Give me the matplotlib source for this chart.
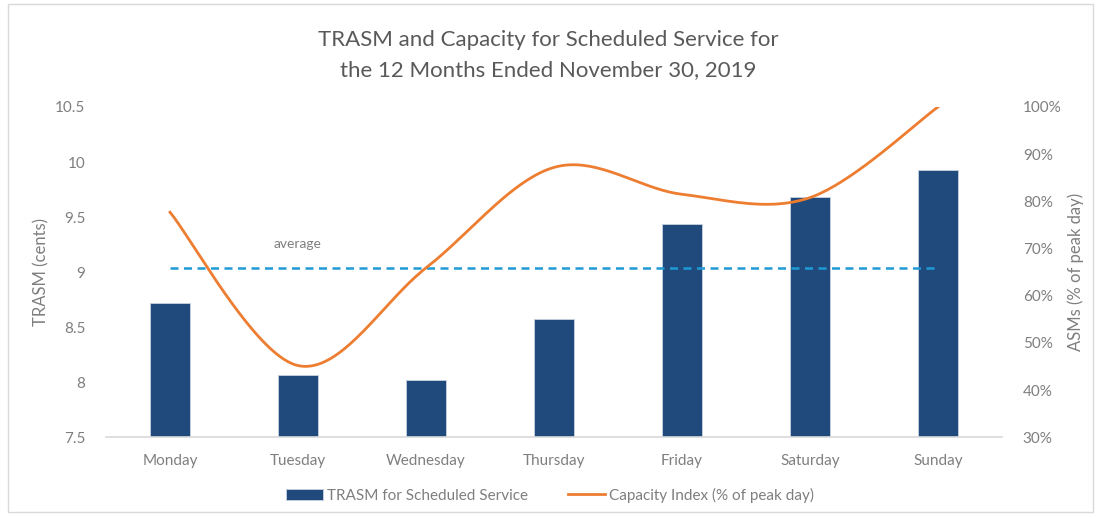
import numpy as np
import matplotlib
matplotlib.use("Agg")
import matplotlib.pyplot as plt
from matplotlib.patches import Rectangle
from matplotlib.ticker import FuncFormatter

plt.rcParams['font.family'] = ['Lato', 'DejaVu Sans']

days = ["Monday", "Tuesday", "Wednesday", "Thursday", "Friday", "Saturday", "Sunday"]
trasm = [8.72, 8.07, 8.02, 8.57, 9.44, 9.68, 9.93]
capacity = [77.7, 45.2, 65.9, 87.2, 81.5, 80.8, 100.0]
average = [9.04] * 7

title = "TRASM and Capacity for Scheduled Service for\nthe 12 Months Ended November 30, 2019"

BAR = "#1F4A7B"
ORANGE = "#ED7D31"
BLUE = "#1E9AD6"
GRAY = "#7F7F7F"

fig = plt.figure(figsize=(10.97, 5.18), dpi=100)
fig.patches.append(Rectangle((8/1097, 6/518), 1085/1097, 508/518, transform=fig.transFigure,
                             fill=False, edgecolor="#D9D9D9", linewidth=1.0))

ax = fig.add_axes([106/1097, 80.7/518, 896/1097, 330.3/518])
x = np.arange(len(days))
bars = ax.bar(x, trasm, width=0.31, color=BAR, edgecolor="#C9D3E0", linewidth=0.6,
              label="TRASM for Scheduled Service", zorder=2)
ax.plot(x, average, linestyle=(0, (3.2, 2.2)), color=BLUE, linewidth=1.8, zorder=3)
ax.text(x[1], average[1] + 0.22, "average", ha="center", va="center", fontsize=10, color=GRAY)

ax.set_xlim(-0.5, 6.5)
ax.set_ylim(7.5, 10.5)
ax.set_yticks([7.5, 8, 8.5, 9, 9.5, 10, 10.5])
ax.yaxis.set_major_formatter(FuncFormatter(lambda v, p: f"{v:g}"))
ax.set_xticks(x)
ax.set_xticklabels(days)
for s in ["top", "right", "left"]:
    ax.spines[s].set_visible(False)
ax.spines["bottom"].set_color("#D9D9D9")
ax.spines["bottom"].set_linewidth(1.2)
ax.tick_params(axis="both", length=0, colors=GRAY, labelsize=11)
ax.tick_params(axis="y", pad=15)
ax.tick_params(axis="x", pad=12)
ax.set_ylabel("TRASM (cents)", color=GRAY, fontsize=12, labelpad=4)

ax2 = ax.twinx()
# Excel-style smoothed line (Catmull-Rom Bezier through the data points)
cx = x.astype(float)
cy = np.array(capacity, dtype=float)
px = np.concatenate([[cx[0]], cx, [cx[-1]]])
py = np.concatenate([[cy[0]], cy, [cy[-1]]])
sx, sy = [], []
t = np.linspace(0, 1, 40)
for i in range(len(cx) - 1):
    p0 = np.array([px[i + 1], py[i + 1]])
    p3 = np.array([px[i + 2], py[i + 2]])
    c1 = p0 + (np.array([px[i + 2], py[i + 2]]) - np.array([px[i], py[i]])) / 6
    c2 = p3 - (np.array([px[i + 3], py[i + 3]]) - np.array([px[i + 1], py[i + 1]])) / 6
    b = ((1 - t) ** 3)[:, None] * p0 + (3 * (1 - t) ** 2 * t)[:, None] * c1 + \
        (3 * (1 - t) * t ** 2)[:, None] * c2 + (t ** 3)[:, None] * p3
    sx.extend(b[:, 0]); sy.extend(b[:, 1])
line, = ax2.plot(sx, sy, color=ORANGE, linewidth=2.0, label="Capacity Index (% of peak day)", zorder=4)
ax2.set_ylim(30, 100)
ax2.set_yticks(np.arange(30, 101, 10))
ax2.yaxis.set_major_formatter(FuncFormatter(lambda v, p: f"{v:.0f}%"))
for s in ["top", "right", "left", "bottom"]:
    ax2.spines[s].set_visible(False)
ax2.tick_params(axis="y", length=0, colors=GRAY, labelsize=11, pad=15)
ax2.set_ylabel("ASMs (% of peak day)", color=GRAY, fontsize=12, labelpad=4)

fig.text(548/1097, 1 - 55/518, title, ha="center", va="center", fontsize=16,
         color="#595959", linespacing=1.6)

fig.legend(handles=[bars, line], loc="center", bbox_to_anchor=(550/1097, 1 - 495/518),
           ncol=2, frameon=False, fontsize=11, labelcolor=GRAY, columnspacing=2.6,
           handlelength=2.4, handletextpad=0.3)

fig.savefig("out.png", dpi=100, facecolor="white")
